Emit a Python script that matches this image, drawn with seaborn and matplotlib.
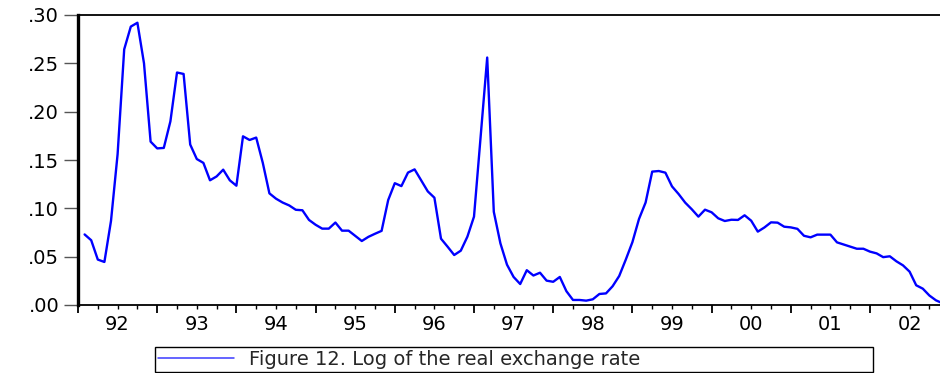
import numpy as np
import pandas as pd
import matplotlib
matplotlib.use("Agg")
import matplotlib.pyplot as plt
import seaborn as sns
from matplotlib.ticker import FuncFormatter, FixedLocator

# ---- data (monthly) ----
start_month = "1992-02"
log_rer = [
    0.073, 0.067, 0.047, 0.0445, 0.087, 0.156, 0.2645, 0.288, 0.292, 0.250,
    0.169, 0.162, 0.1625, 0.190, 0.2405, 0.239, 0.166, 0.151, 0.147, 0.129,
    0.133, 0.140, 0.129, 0.1234, 0.1745, 0.1707, 0.1732, 0.147, 0.1155, 0.110,
    0.106, 0.103, 0.0985, 0.098, 0.088, 0.083, 0.079, 0.079, 0.0853, 0.0769,
    0.0769, 0.0715, 0.0662, 0.0705, 0.0737, 0.0767, 0.1086, 0.126, 0.123, 0.137,
    0.1403, 0.129, 0.1175, 0.111, 0.0686, 0.0603, 0.0517, 0.0562, 0.0707, 0.0914,
    0.174, 0.256, 0.0964, 0.0638, 0.0417, 0.029, 0.0217, 0.036, 0.0305, 0.0334,
    0.0252, 0.024, 0.029, 0.0143, 0.0052, 0.0052, 0.0045, 0.0059, 0.0114, 0.012,
    0.0194, 0.030, 0.047, 0.065, 0.089, 0.106, 0.138, 0.1386, 0.1369, 0.1227,
    0.1148, 0.1059, 0.099, 0.0914, 0.0986, 0.0959, 0.0897, 0.0869, 0.0882, 0.088,
    0.0928, 0.0872, 0.0759, 0.0802, 0.0855, 0.0852, 0.081, 0.0803, 0.0788, 0.0716,
    0.070, 0.0728, 0.0728, 0.0728, 0.0648, 0.0626, 0.0603, 0.0582, 0.0582, 0.0552,
    0.0534, 0.0495, 0.0504, 0.0452, 0.041, 0.0345, 0.0204, 0.0169, 0.0098, 0.0048,
    0.0018,
]
years = list(range(1992, 2003))
year_labels = ["92", "93", "94", "95", "96", "97", "98", "99", "00", "01", "02"]
y_ticks = [0.00, 0.05, 0.10, 0.15, 0.20, 0.25, 0.30]
legend_label = "Figure 12. Log of the real exchange rate"

dates = pd.date_range(start_month, periods=len(log_rer), freq="MS")
df = pd.DataFrame({
    "t": dates.year + (dates.month - 1) / 12.0,
    "value": log_rer,
})

# ---- style ----
sns.set_theme(style="ticks")
plt.rcParams["font.family"] = ["DejaVu Sans"]

W, H = 940, 373
fig = plt.figure(figsize=(W / 100, H / 100), dpi=100)
px_per_year = 79.2
ax = fig.add_axes([78 / W, 68 / H, (len(years) * px_per_year) / W, 290 / H])

sns.lineplot(data=df, x="t", y="value", ax=ax, color="#0000ff",
             linewidth=1.7, label=legend_label)

ax.set_xlim(years[0], years[-1] + 1)
ax.set_ylim(0, 0.30)
ax.set_xlabel("")
ax.set_ylabel("")

# spines
ax.spines["left"].set_linewidth(2.4)
ax.spines["top"].set_linewidth(1.3)
ax.spines["bottom"].set_linewidth(1.3)
ax.spines["right"].set_linewidth(1.3)
for s in ax.spines.values():
    s.set_color("black")

# y axis
ax.set_yticks(y_ticks)
ax.yaxis.set_major_formatter(FuncFormatter(lambda v, p: f"{v:.2f}".lstrip("0")))
ax.tick_params(axis="y", which="major", length=10, width=1.0, color="#555555",
               pad=3.5, labelsize=14, labelcolor="black")

# x axis: year boundary ticks (major), quarterly ticks (minor), labels mid-year
bounds = list(years) + [years[-1] + 1]
ax.xaxis.set_major_locator(FixedLocator(bounds))
ax.set_xticklabels([""] * len(bounds))
quarters = [y + q / 4 for y in years for q in (1, 2, 3)]
ax.xaxis.set_minor_locator(FixedLocator(quarters))
ax.tick_params(axis="x", which="major", length=5.5, width=1.3, color="black",
               direction="out")
ax.tick_params(axis="x", which="minor", length=3, width=1.0, color="black",
               direction="out")

sec = ax.secondary_xaxis("bottom")
sec.set_xticks([y + 0.5 for y in years], year_labels)
sec.tick_params(length=0, pad=7, labelsize=14, labelcolor="black")
sec.spines["bottom"].set_visible(False)

# legend box below the plot, clipped at the bottom edge
leg = ax.legend(loc="upper left",
                bbox_to_anchor=(155 / W, -0.6, (873 - 155) / W, 0.6 + 1 - 347 / H),
                bbox_transform=fig.transFigure, mode="expand",
                fontsize=14, frameon=True, fancybox=False, shadow=False,
                framealpha=1, edgecolor="black", borderaxespad=0,
                handlelength=3.9, handletextpad=0.8, borderpad=0.15)
leg.get_frame().set_linewidth(1.0)
for ln in leg.get_lines():
    ln.set_linewidth(1.1)
    ln.set_color("#3a3aff")

fig.savefig("out.png", dpi=100)
